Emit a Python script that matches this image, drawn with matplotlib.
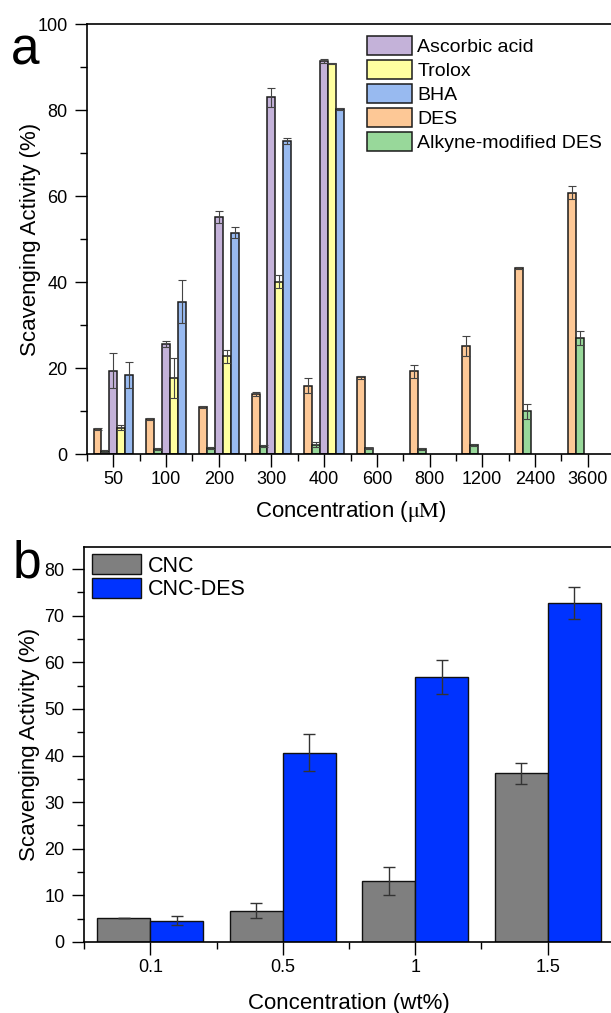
import numpy as np
import matplotlib
matplotlib.use("Agg")
import matplotlib.pyplot as plt
from matplotlib.ticker import MultipleLocator

plt.rcParams['font.family'] = ['Liberation Sans', 'DejaVu Sans']
plt.rcParams['mathtext.fontset'] = 'stix'

# ---- panel a data ----
conc_a = ['50', '100', '200', '300', '400', '600', '800', '1200', '2400', '3600']
nan = np.nan
des = [5.8, 8.1, 11.0, 14.0, 15.9, 17.8, 19.2, 25.1, 43.3, 60.8]
des_err = [0.2, 0.2, 0.2, 0.4, 1.8, 0.3, 1.5, 2.3, 0.3, 1.5]
alkyne = [0.7, 1.2, 1.4, 1.9, 2.2, 1.3, 1.2, 2.1, 9.9, 26.9]
alkyne_err = [0.2, 0.3, 0.2, 0.2, 0.5, 0.2, 0.2, 0.3, 1.8, 1.6]
ascorbic = [19.4, 25.7, 55.1, 83.0, 91.4, nan, nan, nan, nan, nan]
ascorbic_err = [4.0, 0.7, 1.3, 2.2, 0.5, nan, nan, nan, nan, nan]
trolox = [6.1, 17.7, 22.7, 40.1, 90.8, nan, nan, nan, nan, nan]
trolox_err = [0.6, 4.6, 1.5, 1.5, 0.2, nan, nan, nan, nan, nan]
bha = [18.4, 35.4, 51.5, 72.8, 80.2, nan, nan, nan, nan, nan]
bha_err = [3.0, 5.0, 1.2, 0.6, 0.2, nan, nan, nan, nan, nan]

# ---- panel b data ----
conc_b = ['0.1', '0.5', '1', '1.5']
cnc = [5.1, 6.7, 13.1, 36.2]
cnc_err = [0.0, 1.6, 3.0, 2.3]
cnc_des = [4.6, 40.6, 56.8, 72.7]
cnc_des_err = [1.0, 4.0, 3.6, 3.5]

fig = plt.figure(figsize=(6.11, 10.13), dpi=100)

# ---------------- panel a ----------------
ax = fig.add_axes([0.1424, 0.5518, 0.8625, 0.4245])
x = np.arange(len(conc_a))
w = 0.15
series_a = [
    ('DES', des, des_err, '#FDC896', -2),
    ('Alkyne-modified DES', alkyne, alkyne_err, '#98D89A', -1),
    ('Ascorbic acid', ascorbic, ascorbic_err, '#C4B2D9', 0),
    ('Trolox', trolox, trolox_err, '#FFFFA0', 1),
    ('BHA', bha, bha_err, '#98BAF0', 2),
]
handles = {}
for name, vals, errs, col, k in series_a:
    vals = np.array(vals, dtype=float)
    errs = np.array(errs, dtype=float)
    m = ~np.isnan(vals)
    b = ax.bar(x[m] + k * w, vals[m], w, color=col, edgecolor='#1a1a1a',
               linewidth=1.1, label=name)
    ax.errorbar(x[m] + k * w, vals[m], yerr=errs[m], fmt='none',
                ecolor='#444444', elinewidth=0.8, capsize=3, capthick=0.8)
    handles[name] = b

order = ['Ascorbic acid', 'Trolox', 'BHA', 'DES', 'Alkyne-modified DES']
ax.legend([handles[n] for n in order], order, loc='upper right',
          frameon=False, fontsize=14, handlelength=2.27, handleheight=1.13,
          handletextpad=0.3, labelspacing=0.2, borderaxespad=0.3,
          borderpad=0.3)

ax.set_xlim(-0.5, 9.5)
ax.set_ylim(0, 100)
ax.set_xticks(x)
ax.set_xticklabels(conc_a)
ax.xaxis.set_minor_locator(MultipleLocator(1, offset=0.5))
ax.yaxis.set_major_locator(MultipleLocator(20))
ax.yaxis.set_minor_locator(MultipleLocator(10))
ax.tick_params(which='major', direction='out', length=9, width=1.0,
               labelsize=13, pad=3)
ax.tick_params(axis='y', which='major', pad=5)
ax.tick_params(which='minor', direction='out', length=5, width=1.0)
for s in ax.spines.values():
    s.set_linewidth(1.2)
ax.set_ylabel('Scavenging Activity (%)', fontsize=16)
ax.set_xlabel(r'Concentration ($\mathrm{\mu M}$)', fontsize=16)
ax.yaxis.set_label_coords(-0.088, 0.5)
ax.xaxis.set_label_coords(0.5, -0.105)

fig.text(0.018, 0.936, 'a', fontsize=37)

# ---------------- panel b ----------------
ax2 = fig.add_axes([0.1375, 0.0701, 0.8674, 0.3902])
xb = np.arange(len(conc_b))
wb = 0.4
b1 = ax2.bar(xb - wb / 2, cnc, wb, color='#7F7F7F', edgecolor='#111111',
             linewidth=1.0, label='CNC')
ax2.errorbar(xb - wb / 2, cnc, yerr=cnc_err, fmt='none', ecolor='#333333',
             elinewidth=1.0, capsize=4, capthick=1.0)
b2 = ax2.bar(xb + wb / 2, cnc_des, wb, color='#0033FF', edgecolor='#111111',
             linewidth=1.0, label='CNC-DES')
ax2.errorbar(xb + wb / 2, cnc_des, yerr=cnc_des_err, fmt='none',
             ecolor='#333333', elinewidth=1.0, capsize=4, capthick=1.0)
ax2.legend(loc='upper left', frameon=False, fontsize=15.5, handlelength=2.3,
           handleheight=1.07, handletextpad=0.3, labelspacing=0.05,
           borderaxespad=0.25, borderpad=0.1)

ax2.set_xlim(-0.5, 3.5)
ax2.set_ylim(0, 84.8)
ax2.set_xticks(xb)
ax2.set_xticklabels(conc_b)
ax2.xaxis.set_minor_locator(MultipleLocator(1, offset=0.5))
ax2.yaxis.set_major_locator(MultipleLocator(10))
ax2.yaxis.set_minor_locator(MultipleLocator(5))
ax2.tick_params(which='major', direction='out', length=9, width=1.0,
                labelsize=13, pad=3)
ax2.tick_params(axis='y', which='major', pad=5)
ax2.tick_params(which='minor', direction='out', length=5, width=1.0)
for s in ax2.spines.values():
    s.set_linewidth(1.2)
ax2.set_ylabel('Scavenging Activity (%)', fontsize=16)
ax2.set_xlabel('Concentration (wt%)', fontsize=16)
ax2.yaxis.set_label_coords(-0.083, 0.5)
ax2.xaxis.set_label_coords(0.5, -0.128)

fig.text(0.02, 0.43, 'b', fontsize=37)

fig.savefig('out.png', dpi=100)
